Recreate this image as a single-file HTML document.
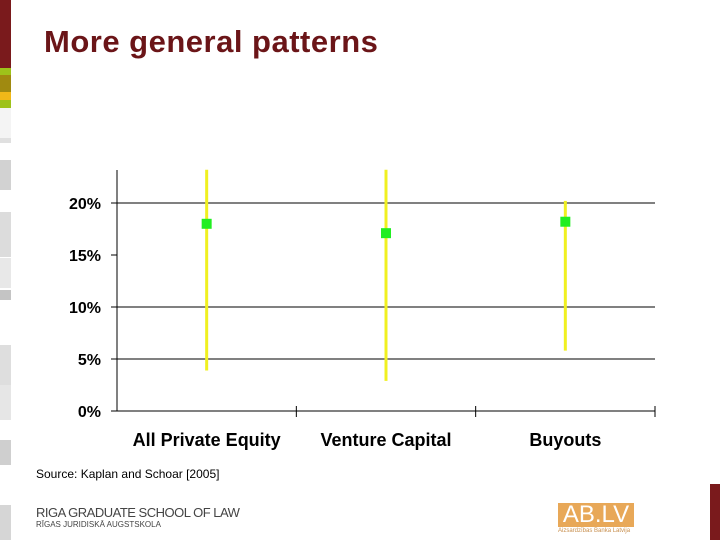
<!DOCTYPE html>
<html><head><meta charset="utf-8"><style>
body{margin:0;width:720px;height:540px;background:#fff;position:relative;overflow:hidden;font-family:"Liberation Sans",sans-serif}
.sb{position:absolute;left:0;width:11px}
</style></head><body>
<div>
<div class="sb" style="top:0;height:68px;background:#7a1a1c"></div>
<div class="sb" style="top:68px;height:7px;background:#9ec21a"></div>
<div class="sb" style="top:75px;height:17px;background:#a08a10"></div>
<div class="sb" style="top:92px;height:8px;background:#f0b818"></div>
<div class="sb" style="top:100px;height:8px;background:#9ec21a"></div>
<div class="sb" style="top:108px;height:30px;background:#f4f4f4"></div>
<div class="sb" style="top:138px;height:5px;background:#e0e0e0"></div>
<div class="sb" style="top:160px;height:30px;background:#d2d2d2"></div>
<div class="sb" style="top:212px;height:45px;background:#dcdcdc"></div>
<div class="sb" style="top:258px;height:30px;background:#e8e8e8"></div>
<div class="sb" style="top:290px;height:10px;background:#c4c4c4"></div>
<div class="sb" style="top:345px;height:40px;background:#dedede"></div>
<div class="sb" style="top:385px;height:35px;background:#e6e6e6"></div>
<div class="sb" style="top:440px;height:25px;background:#cfcfcf"></div>
<div class="sb" style="top:505px;height:35px;background:#d6d6d6"></div>
</div>
<div style="position:absolute;left:44px;top:24px;font-size:31px;letter-spacing:0.5px;font-weight:bold;color:#6b1518;font-family:'Liberation Sans',sans-serif">More general patterns</div>
<svg width="720" height="540" style="position:absolute;left:0;top:0">
<g id="g"></g>
</svg>
<div style="position:absolute;left:36px;top:467px;font-size:12px">Source: Kaplan and Schoar [2005]</div>
<div style="position:absolute;left:36px;top:505px;color:#444">
<div style="font-size:13px;letter-spacing:-0.5px">RIGA GRADUATE SCHOOL OF LAW</div>
<div style="font-size:8px">RĪGAS JURIDISKĀ AUGSTSKOLA</div></div>
<div style="position:absolute;left:558px;top:503px;width:76px;height:24px;background:#e8a858;color:#fff;font-size:24px;line-height:24px;text-align:center">AB.LV</div>
<div style="position:absolute;left:558px;top:528px;font-size:6px;color:#c89050">Aizsardzības Banka Latvija</div>
<div style="position:absolute;left:710px;top:484px;width:10px;height:56px;background:#7a1a1c"></div>
<script>
const categories=["All Private Equity","Venture Capital","Buyouts"];
const highs=[23.2,23.2,20.2];
const lows=[3.9,2.9,5.8];
const points=[18.0,17.1,18.2];
const yTicks=[0,5,10,15,20];
const yTickLabels=["0%","5%","10%","15%","20%"];
const gridVals=[5,10,20];
const NS="http://www.w3.org/2000/svg";
const g=document.getElementById('g');
const x0=117,x1=655,y0=411,pxPer=10.4;
const y=v=>y0-v*pxPer;
const bw=(x1-x0)/categories.length;
const xc=i=>x0+bw*(i+0.5);
function mk(t,a){const e=document.createElementNS(NS,t);for(const k in a)e.setAttribute(k,a[k]);g.appendChild(e);return e;}
gridVals.forEach(v=>{const e=mk('line',{x1:x0,x2:x1,y1:y(v),y2:y(v),stroke:'#000','stroke-width':1});

});
let e=mk('line',{x1:x0,x2:x0,y1:170,y2:y0,stroke:'#000'});


e=mk('line',{x1:x0,x2:x1,y1:y0,y2:y0,stroke:'#000'});


yTicks.forEach((v,i)=>{mk('line',{x1:x0-6,x2:x0,y1:y(v),y2:y(v),stroke:'#000'});
const t=mk('text',{x:101,y:y(v)+6,'text-anchor':'end','font-size':16,'font-weight':'bold','font-family':'Liberation Sans'});
t.textContent=yTickLabels[i];

});
for(let i=1;i<=categories.length;i++){mk('line',{x1:x0+bw*i,x2:x0+bw*i,y1:y0-5,y2:y0+6,stroke:'#000'});}
categories.forEach((c,i)=>{
const l=mk('line',{x1:xc(i),x2:xc(i),y1:y(highs[i]),y2:y(lows[i]),stroke:'#f0f020','stroke-width':3});


const r=mk('rect',{x:xc(i)-5,y:y(points[i])-5,width:10,height:10,fill:'#22ee22'});


const t=mk('text',{x:xc(i),y:446,'text-anchor':'middle','font-size':18,'font-weight':'bold','font-family':'Liberation Sans'});
t.textContent=c;


});
</script>
</body></html>
